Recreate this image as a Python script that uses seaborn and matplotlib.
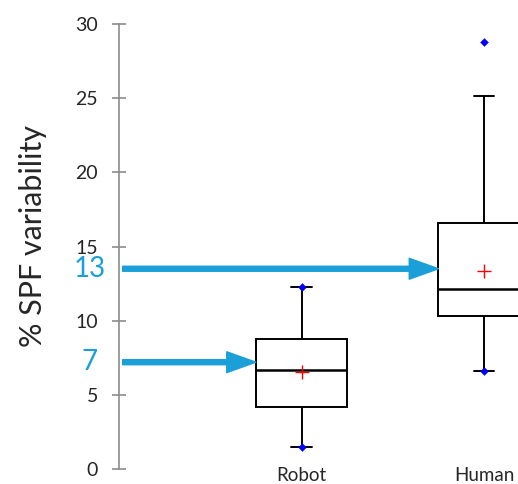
import pandas as pd
import seaborn as sns
import matplotlib.pyplot as plt

# five-number summaries
groups = ["Robot", "Human"]
whisker_low = [1.48, 6.6]
q1 = [4.18, 10.3]
median = [6.68, 12.14]
q3 = [8.77, 16.6]
whisker_high = [12.27, 25.15]
means = [6.54, 13.35]
minimums = [1.48, 6.6]
maximums = [12.27, 28.8]

arrow_levels = [7.2, 13.5]
arrow_labels = ["7", "13"]

blue = "#1a9fd9"

sns.set_style("white")
plt.rcParams["font.family"] = ["Lato", "DejaVu Sans"]

rows = []
for g, a, b, c, d, e in zip(groups, whisker_low, q1, median, q3, whisker_high):
    for v in (a, b, c, d, e):
        rows.append({"group": g, "value": v})
df = pd.DataFrame(rows)

fig = plt.figure(figsize=(5.18, 4.84), dpi=100)
ax = fig.add_axes([119 / 518, 15 / 484, 1 - 119 / 518, 445 / 484])

sns.boxplot(
    data=df, x="group", y="value", order=groups,
    whis=(0, 100), width=0.5, color="white", linecolor="black",
    linewidth=1.4, showfliers=False, capwidths=0.11,
    medianprops={"linewidth": 1.8}, ax=ax,
)

ext = pd.DataFrame({"group": groups * 2, "value": minimums + maximums})
sns.scatterplot(data=ext, x="group", y="value", marker="D", s=16,
                color="blue", edgecolor="blue", zorder=5, ax=ax, legend=False)
sns.scatterplot(x=groups, y=means, marker="+", s=90, color="red",
                linewidth=1.0, zorder=5, ax=ax, legend=False)

for i, (lvl, lab) in enumerate(zip(arrow_levels, arrow_labels)):
    ax.annotate("", xy=(i - 0.25, lvl), xytext=(-0.98, lvl),
                arrowprops=dict(facecolor=blue, edgecolor=blue, width=3.6,
                                headwidth=15, headlength=21, shrink=0),
                annotation_clip=False, zorder=6)
    ax.text(-1.16, lvl, lab, color=blue, fontsize=20, ha="center",
            va="center", clip_on=False)

ax.set_xlim(-1, 1.186)
ax.set_ylim(0, 30)
ax.set_yticks(range(0, 31, 5))
ax.set_xlabel("")
ax.set_ylabel("% SPF variability", fontsize=22)
ax.yaxis.set_label_coords(-0.18, 0.524)

for side in ("top", "right", "bottom"):
    ax.spines[side].set_visible(False)
ax.spines["left"].set_color("#8c8c8c")
ax.spines["left"].set_linewidth(1.2)
ax.tick_params(axis="y", direction="inout", length=10, width=1.2,
               color="#8c8c8c", labelsize=14, pad=10, left=True)
ax.tick_params(axis="x", length=0, labelsize=13.5, pad=8.4)
for t in ax.get_xticklabels():
    t.set_va("baseline")

fig.savefig("out.png", dpi=100)
